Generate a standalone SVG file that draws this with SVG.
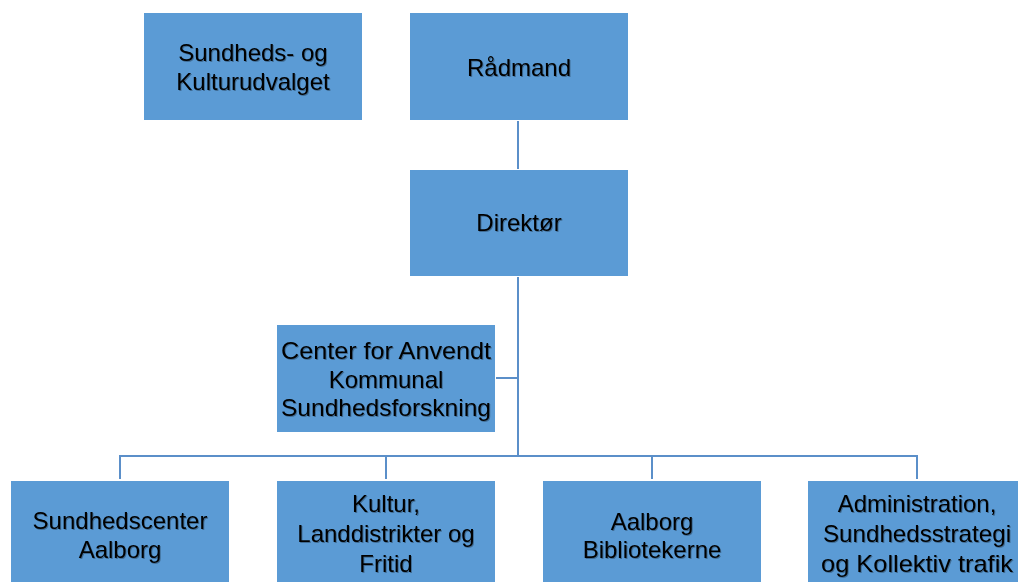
<svg xmlns="http://www.w3.org/2000/svg" width="1018" height="582" viewBox="0 0 1018 582">
<style>
.box{fill:#5B9BD5;}
.t{font-family:"Liberation Sans","Open Sans",sans-serif;font-size:24px;fill:#000;text-anchor:middle;dominant-baseline:central;filter:url(#sh);}
.c{stroke:#5B8FC9;stroke-width:2;fill:none;}
</style>
<defs>
<filter id="sh" x="-10%" y="-20%" width="120%" height="150%">
<feDropShadow dx="1" dy="1" stdDeviation="0.6" flood-color="#000" flood-opacity="0.3"/>
</filter>
</defs>
<rect width="1018" height="582" fill="#fff"/>
<g id="connectors">
<path class="c" d="M518 121V169"/>
<path class="c" d="M518 277V456"/>
<path class="c" d="M496 378H518"/>
<path class="c" d="M120 479V456H917V479"/>
<path class="c" d="M386 456V479"/>
<path class="c" d="M652 456V479"/>
</g>
<g id="udvalg"><rect class="box" x="144" y="13" width="218" height="107"/>
<text class="t" x="253" y="52">Sundheds- og</text><text class="t" x="253" y="81">Kulturudvalget</text></g>
<g id="raadmand"><rect class="box" x="410" y="13" width="218" height="107"/>
<text class="t" x="519" y="67">Rådmand</text></g>
<g id="direktoer"><rect class="box" x="410" y="170" width="218" height="106"/>
<text class="t" x="519" y="222">Direktør</text></g>
<g id="center"><rect class="box" x="277" y="325" width="218" height="107"/>
<text class="t" x="386" y="350" textLength="210" lengthAdjust="spacingAndGlyphs">Center for Anvendt</text><text class="t" x="386" y="379">Kommunal</text><text class="t" x="386" y="407" textLength="210" lengthAdjust="spacingAndGlyphs">Sundhedsforskning</text></g>
<g id="sundhedscenter"><rect class="box" x="11" y="481" width="218" height="110"/>
<text class="t" x="120" y="520">Sundhedscenter</text><text class="t" x="120" y="549">Aalborg</text></g>
<g id="kultur"><rect class="box" x="277" y="481" width="218" height="110"/>
<text class="t" x="386" y="503">Kultur,</text><text class="t" x="386" y="533">Landdistrikter og</text><text class="t" x="386" y="563">Fritid</text></g>
<g id="bibliotek"><rect class="box" x="543" y="481" width="218" height="110"/>
<text class="t" x="652" y="521">Aalborg</text><text class="t" x="652" y="549">Bibliotekerne</text></g>
<g id="admin"><rect class="box" x="808" y="481" width="218" height="110"/>
<text class="t" x="917" y="503">Administration,</text><text class="t" x="917" y="533" textLength="188" lengthAdjust="spacingAndGlyphs">Sundhedsstrategi</text><text class="t" x="917" y="563" textLength="192" lengthAdjust="spacingAndGlyphs">og Kollektiv trafik</text></g>
</svg>
